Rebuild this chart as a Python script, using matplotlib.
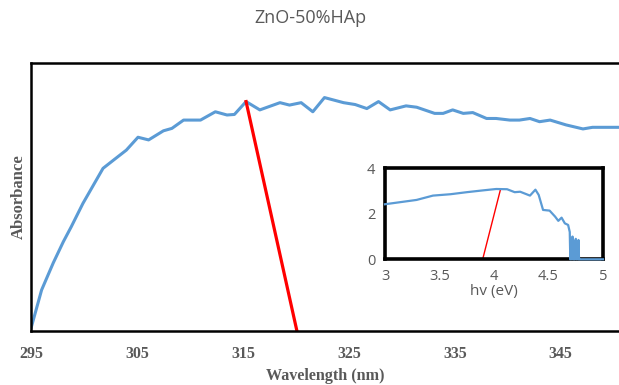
import numpy as np
import matplotlib
matplotlib.use('Agg')
import matplotlib.pyplot as plt

# main spectrum (arbitrary absorbance units)
wavelength = [295.0, 296.0, 297.1, 298.05, 298.8, 299.9, 300.9, 301.8, 302.8, 304.0,
              305.1, 306.1, 307.5, 308.3, 309.4, 311.0, 312.4, 313.5, 314.2, 315.3,
              316.6, 318.5, 319.4, 320.5, 321.6, 322.7, 324.5, 325.6, 326.7, 327.8,
              328.9, 330.4, 331.4, 333.1, 333.9, 334.8, 335.8, 336.7, 338.0, 338.9,
              340.2, 341.1, 342.1, 343.0, 344.0, 345.5, 347.1, 348.0, 350.5]
absorbance = [0.01, 0.153, 0.254, 0.333, 0.389, 0.476, 0.545, 0.607, 0.638, 0.675,
              0.723, 0.713, 0.747, 0.756, 0.787, 0.787, 0.818, 0.806, 0.808, 0.856,
              0.825, 0.852, 0.843, 0.852, 0.818, 0.871, 0.852, 0.845, 0.830, 0.856,
              0.825, 0.840, 0.835, 0.812, 0.812, 0.825, 0.812, 0.815, 0.793, 0.793,
              0.787, 0.787, 0.793, 0.781, 0.787, 0.769, 0.754, 0.760, 0.760]
tangent_wl = [315.3, 320.1]
tangent_abs = [0.856, 0.0]

# inset Tauc plot
hv = [3.0, 3.29, 3.44, 3.60, 3.75, 3.90, 4.02, 4.12, 4.19, 4.24, 4.33, 4.38, 4.41,
      4.45, 4.51, 4.56, 4.59, 4.62, 4.65, 4.68, 4.695, 4.70, 4.71, 4.715, 4.72,
      4.73, 4.735, 4.74, 4.75, 4.755, 4.76, 4.77, 4.775, 4.78, 4.79, 4.80, 5.0]
tauc = [2.42, 2.61, 2.80, 2.86, 2.95, 3.03, 3.09, 3.08, 2.95, 2.97, 2.80, 3.06, 2.83,
        2.17, 2.14, 1.88, 1.69, 1.83, 1.58, 1.51, 1.2, 0.0, 0.9, 0.0, 1.0,
        0.0, 0.8, 0.0, 0.9, 0.0, 0.7, 0.0, 0.85, 0.0, 0.0, 0.0, 0.0]
inset_fit_hv = [3.896, 4.06]
inset_fit_val = [0.0, 3.08]

blue = '#5B9BD5'
grey = '#595959'
serif = ['Liberation Serif', 'DejaVu Serif']
sans = ['Open Sans', 'DejaVu Sans']

fig = plt.figure(figsize=(6.19, 3.85), dpi=100)
ax = fig.add_axes([31 / 619, 54 / 385, 588 / 619, 268 / 385])
ax.plot(wavelength, absorbance, color=blue, lw=2.2, solid_joinstyle='round',
        solid_capstyle='round')
ax.plot(tangent_wl, tangent_abs, color='red', lw=2.3)
ax.set_xlim(295, 350.5)
ax.set_ylim(0, 1.0)
ax.set_xticks([295, 305, 315, 325, 335, 345])
ax.set_yticks([])
ax.tick_params(axis='x', length=0, pad=11, colors=grey)
for lab in ax.get_xticklabels():
    lab.set_fontfamily(serif)
    lab.set_fontweight('bold')
    lab.set_fontsize(11.5)
for side in ['left', 'top', 'bottom']:
    ax.spines[side].set_linewidth(1.8)
    ax.spines[side].set_color('black')
ax.spines['right'].set_visible(False)
ax.set_xlabel('Wavelength (nm)', family=serif, fontweight='bold', fontsize=11.6,
              color=grey, labelpad=4)
ax.set_ylabel('Absorbance', family=serif, fontweight='bold', fontsize=12,
              color=grey, labelpad=3)
fig.text(310 / 619, 1 - 18 / 385, 'ZnO-50%HAp', family=sans, fontsize=13,
         color=grey, ha='center', va='center')

# inset
ins = fig.add_axes([385 / 619, 125.7 / 385, 218 / 619, 91 / 385])
ins.plot(hv, tauc, color=blue, lw=1.6, solid_joinstyle='round', clip_on=False,
         zorder=3)
ins.plot(inset_fit_hv, inset_fit_val, color='red', lw=1.0)
ins.set_xlim(3, 5)
ins.set_ylim(0, 4)
ins.set_xticks([3, 3.5, 4, 4.5, 5])
ins.set_xticklabels(['3', '3.5', '4', '4.5', '5'])
ins.set_yticks([0, 2, 4])
ins.tick_params(length=0, labelsize=10.5, colors=grey, pad=7)
for lab in ins.get_xticklabels() + ins.get_yticklabels():
    lab.set_fontfamily(sans)
for s in ins.spines.values():
    s.set_linewidth(2.6)
    s.set_color('black')
ins.set_xlabel('hv (eV)', family=sans, fontsize=11, color=grey, labelpad=0)

fig.savefig('out.png', dpi=100)
